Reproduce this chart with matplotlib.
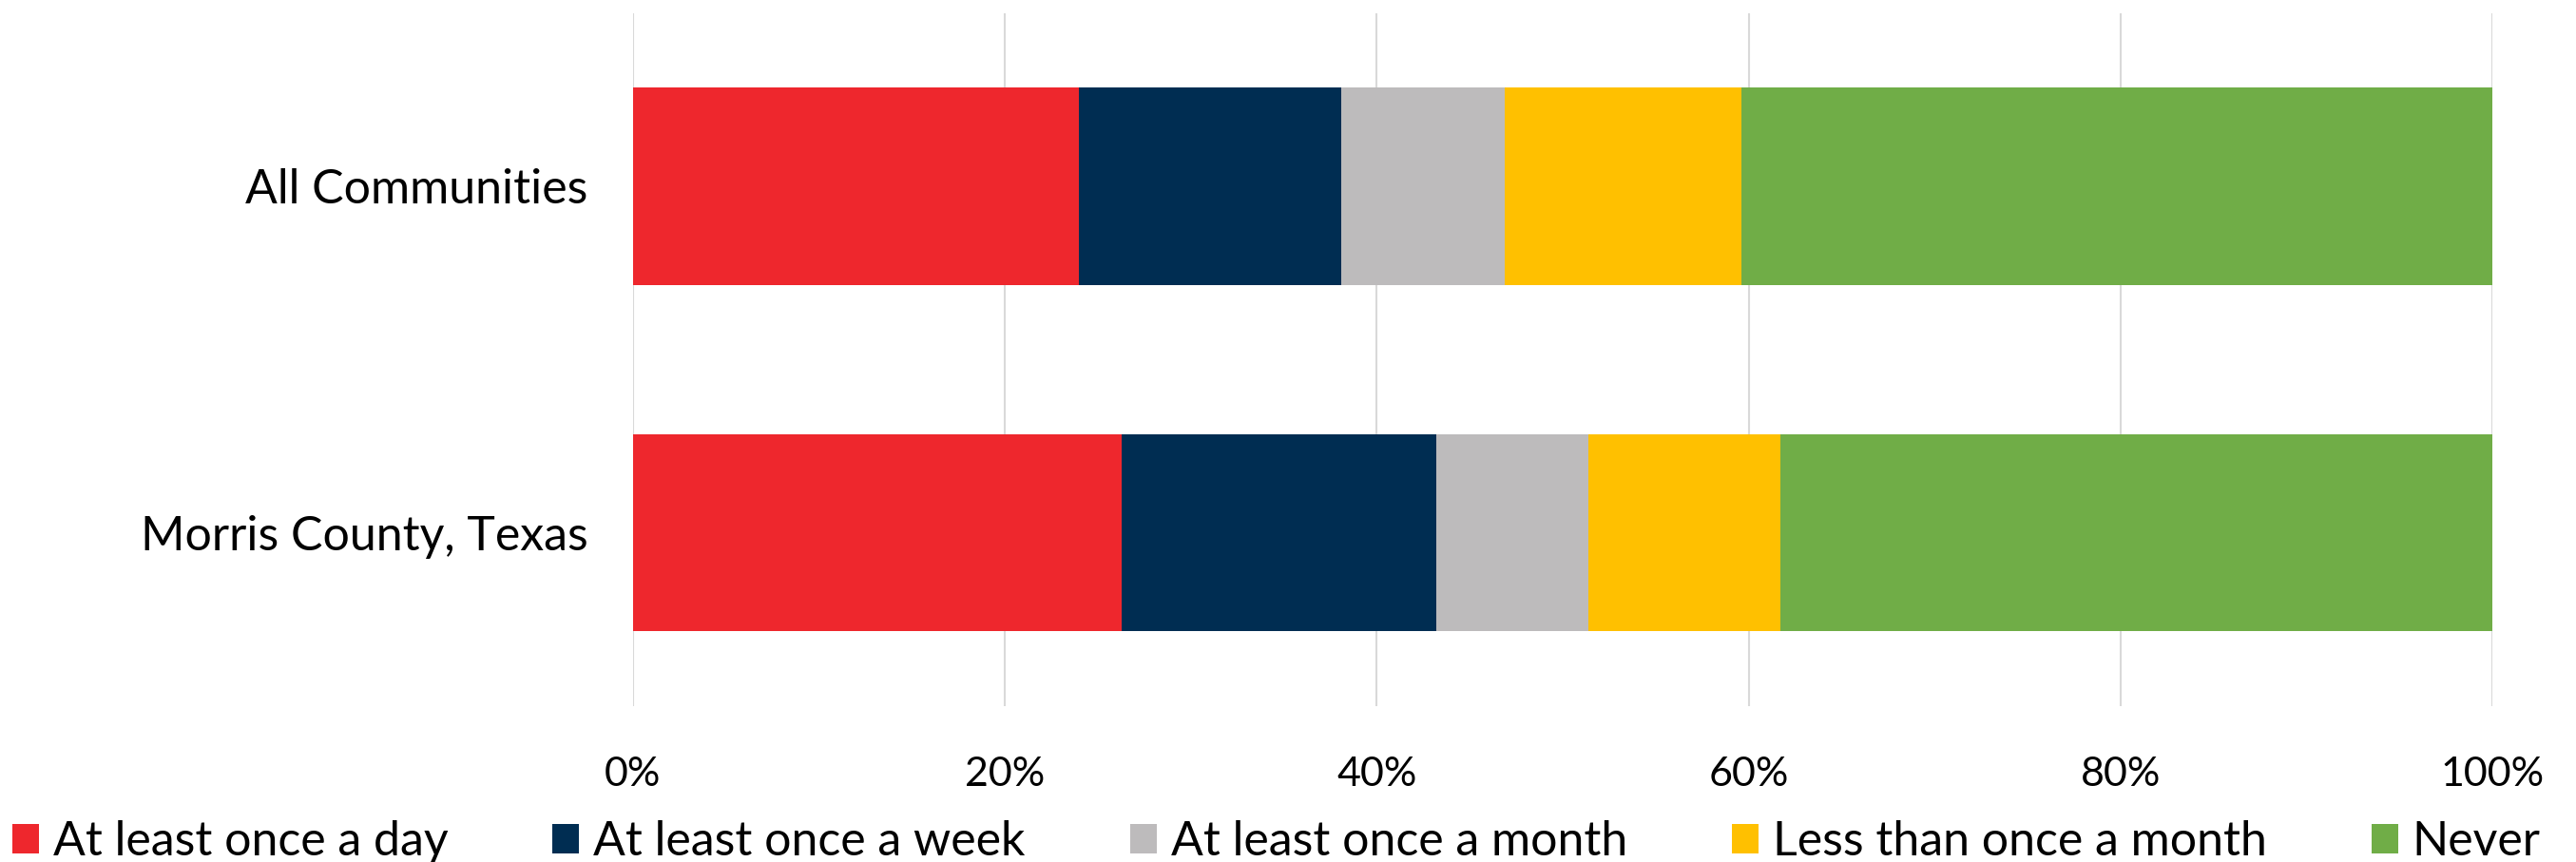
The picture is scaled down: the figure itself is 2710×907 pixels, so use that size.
import matplotlib.pyplot as plt
import numpy as np

plt.rcParams['font.family'] = ['Lato', 'DejaVu Sans']

categories = ['All Communities', 'Morris County, Texas']
series = ['At least once a day', 'At least once a week', 'At least once a month',
          'Less than once a month', 'Never']
values = {
    'At least once a day': [24.0, 26.3],
    'At least once a week': [14.1, 16.9],
    'At least once a month': [8.8, 8.2],
    'Less than once a month': [12.7, 10.3],
    'Never': [40.4, 38.3],
}
colors = ['#EE272D', '#002D52', '#BDBBBC', '#FFC000', '#70AD47']

fig = plt.figure(figsize=(27.1, 9.07), dpi=100)
ax = fig.add_axes([0.2456, 0.181, 0.7221, 0.804])

y = np.arange(len(categories))[::-1]
left = np.zeros(len(categories))
for name, c in zip(series, colors):
    v = np.array(values[name])
    ax.barh(y, v, left=left, height=0.57, color=c, label=name, zorder=3)
    left += v

ax.set_xlim(0, 100)
ax.set_ylim(-0.5, 1.5)
ax.set_xticks(np.arange(0, 101, 20))
ax.set_xticklabels([f'{t}%' for t in range(0, 101, 20)])
ax.set_yticks(y)
ax.set_yticklabels(categories)
ax.tick_params(axis='both', length=0, colors='#000000')
ax.tick_params(axis='x', pad=38, labelsize=31)
ax.tick_params(axis='y', pad=34, labelsize=36)
ax.grid(axis='x', color='#D9D9D9', linewidth=1.5, zorder=0)
for s in ax.spines.values():
    s.set_visible(False)

fig.legend(loc='lower center', bbox_to_anchor=(0.4955, -0.052), ncol=5, frameon=False,
           fontsize=36, handlelength=0.56, handleheight=0.56, handletextpad=0.3,
           columnspacing=2.2)

fig.savefig('out.png', dpi=100)
